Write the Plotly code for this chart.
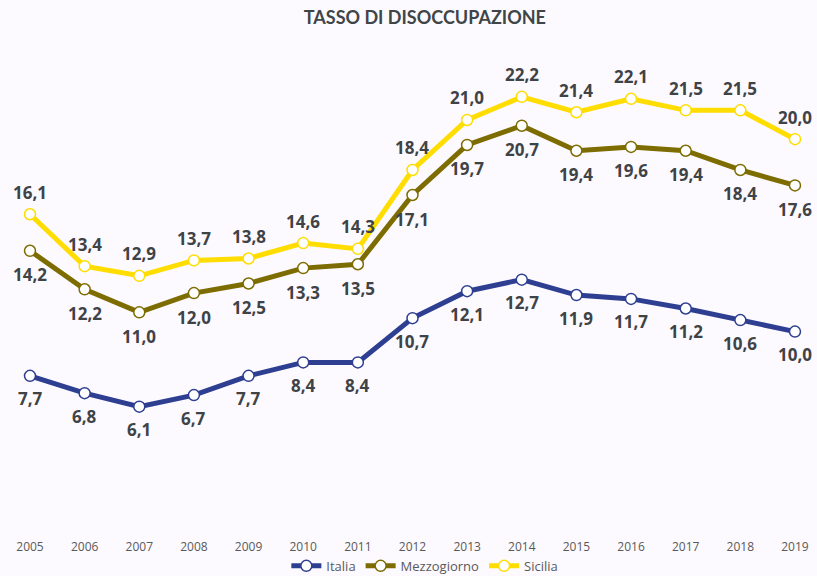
import plotly.graph_objects as go

anni = ["2005","2006","2007","2008","2009","2010","2011","2012","2013","2014","2015","2016","2017","2018","2019"]
italia = [7.7, 6.8, 6.1, 6.7, 7.7, 8.4, 8.4, 10.7, 12.1, 12.7, 11.9, 11.7, 11.2, 10.6, 10.0]
mezzogiorno = [14.2, 12.2, 11.0, 12.0, 12.5, 13.3, 13.5, 17.1, 19.7, 20.7, 19.4, 19.6, 19.4, 18.4, 17.6]
sicilia = [16.1, 13.4, 12.9, 13.7, 13.8, 14.6, 14.3, 18.4, 21.0, 22.2, 21.4, 22.1, 21.5, 21.5, 20.0]

def fmt(v):
    return f"{v:.1f}".replace(".", ",")

x = list(range(len(anni)))
label_font = dict(family="Open Sans, sans-serif", size=17, color="#3F4346", weight="bold")

fig = go.Figure()
series = [
    ("Italia", italia, "#2E3F92", -23),
    ("Mezzogiorno", mezzogiorno, "#7D6C00", -24),
    ("Sicilia", sicilia, "#FFDD00", 22),
]
for name, vals, col, shift in series:
    fig.add_trace(go.Scatter(
        x=x, y=vals, name=name, mode="lines+markers",
        line=dict(color=col, width=5),
        marker=dict(size=11, color="white", line=dict(color=col, width=1.5)),
        cliponaxis=False, hoverinfo="skip",
    ))
    for xi, v in zip(x, vals):
        fig.add_annotation(x=xi, y=v, text=fmt(v), showarrow=False, yshift=shift,
                           xanchor="center", yanchor="middle", font=label_font)

fig.update_layout(
    width=817, height=576,
    paper_bgcolor="#FCFAFE", plot_bgcolor="#FCFAFE",
    margin=dict(l=0, r=0, t=43, b=52, autoexpand=False),
    title=dict(text="<b>TASSO DI DISOCCUPAZIONE</b>", x=0.52, xanchor="center", y=0.97, yanchor="middle",
               font=dict(family="Lato, sans-serif", size=18, color="#404548")),
    xaxis=dict(range=[-0.549, 14.403], tickmode="array", tickvals=x, ticktext=anni,
               showgrid=False, zeroline=False, showline=False, automargin=False,
               ticks="outside", ticklen=12, tickcolor="rgba(0,0,0,0)",
               tickfont=dict(family="Open Sans, sans-serif", size=12, color="#595959")),
    yaxis=dict(range=[0, 25], visible=False, automargin=False),
    showlegend=True,
    legend=dict(orientation="h", x=0.52, xanchor="center", y=-0.087, yanchor="middle",
                font=dict(family="Open Sans, sans-serif", size=13, color="#595959"),
                itemwidth=30, tracegroupgap=0, bgcolor="rgba(0,0,0,0)"),
)
fig.write_html("out.html", config={"displayModeBar": False},
               post_script="document.body.style.margin='0';document.body.style.overflow='hidden';")
